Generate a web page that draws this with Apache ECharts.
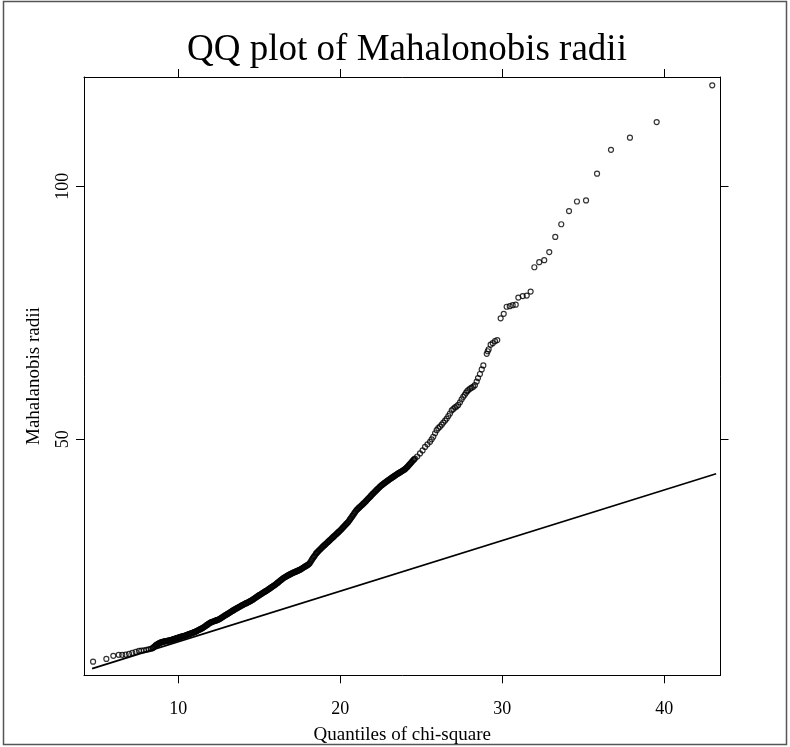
<!DOCTYPE html>
<html>
<head>
<meta charset="utf-8">
<script src="https://cdn.jsdelivr.net/npm/echarts@6/dist/echarts.min.js"></script>
<style>html,body{margin:0;padding:0;background:#fff}#c{width:790px;height:747px}</style>
</head>
<body>
<div id="c"></div>
<script>
// Quantiles of chi-square (x) and sorted Mahalanobis radii (y)
const chiQuantiles = [
4.74,5.56,5.99,6.32,6.54,6.75,6.96,7.16,7.37,7.57,7.72,7.88,8.03,8.17,8.30,
8.40,8.44,8.49,8.53,8.58,8.62,8.67,8.71,8.76,8.80,8.85,8.89,8.94,8.98,
9.03,9.08,9.12,9.17,9.21,9.26,9.30,9.35,9.40,9.44,9.49,
9.54,9.58,9.63,9.68,9.72,9.77,9.82,9.86,9.91,9.96,
10.00,10.05,10.10,10.14,10.19,10.24,10.28,10.33,10.38,10.42,10.47,
10.52,10.56,10.61,10.66,10.70,10.75,10.80,10.84,10.89,10.94,10.98,
11.03,11.08,11.12,11.17,11.22,11.26,11.31,11.36,11.40,11.45,11.50,
11.54,11.59,11.64,11.68,11.73,11.78,11.82,11.87,11.92,11.96,
12.01,12.06,12.10,12.15,12.20,12.24,12.29,12.34,12.38,12.43,12.48,
12.52,12.57,12.62,12.66,12.71,12.76,12.80,12.85,12.90,12.94,12.99,
13.04,13.08,13.13,13.18,13.22,13.27,13.32,13.36,13.41,13.46,
13.50,13.55,13.60,13.64,13.69,13.74,13.78,13.83,13.88,13.92,13.97,
14.02,14.06,14.11,14.16,14.20,14.25,14.30,14.34,14.39,14.44,14.48,
14.53,14.58,14.62,14.67,14.72,14.76,14.81,14.86,14.90,14.95,15.00,
15.04,15.09,15.14,15.18,15.23,15.28,15.32,15.37,15.42,15.46,
15.51,15.56,15.60,15.65,15.70,15.74,15.79,15.84,15.88,15.93,15.98,
16.02,16.07,16.12,16.16,16.21,16.26,16.30,16.35,16.40,16.44,16.49,
16.54,16.58,16.63,16.68,16.72,16.77,16.82,16.86,16.91,16.96,
17.00,17.05,17.10,17.14,17.19,17.24,17.28,17.33,17.38,17.42,17.47,
17.52,17.56,17.61,17.66,17.70,17.75,17.80,17.84,17.89,17.94,17.98,
18.03,18.08,18.12,18.17,18.22,18.26,18.31,18.36,18.40,18.45,18.50,
18.54,18.59,18.64,18.68,18.73,18.78,18.82,18.87,18.92,18.96,
19.01,19.06,19.10,19.15,19.20,19.24,19.29,19.34,19.38,19.43,19.48,
19.52,19.57,19.62,19.66,19.71,19.76,19.80,19.85,19.90,19.94,19.99,
20.04,20.08,20.13,20.18,20.22,20.27,20.32,20.36,20.41,20.46,
20.50,20.55,20.60,20.64,20.69,20.74,20.78,20.83,20.88,20.92,20.97,
21.02,21.06,21.11,21.16,21.20,21.25,21.30,21.34,21.39,21.44,21.48,
21.53,21.58,21.62,21.67,21.72,21.76,21.81,21.86,21.90,21.95,
22.00,22.04,22.09,22.14,22.18,22.23,22.28,22.32,22.37,22.42,22.46,
22.51,22.56,22.60,22.65,22.70,22.74,22.79,22.84,22.88,22.93,22.98,
23.02,23.07,23.12,23.16,23.21,23.26,23.30,23.35,23.40,23.44,
23.49,23.54,23.58,23.63,23.68,23.72,23.77,23.82,23.86,23.91,23.96,
24.00,24.05,24.10,24.14,24.19,24.24,24.28,24.33,24.38,24.42,24.47,24.52,24.56,24.61,
24.75,24.92,25.08,25.23,25.38,25.54,25.64,25.74,25.85,25.95,26.05,26.15,26.26,26.36,26.47,26.57,26.67,26.77,26.88,26.98,
27.08,27.18,27.28,27.39,27.49,27.59,27.68,27.76,27.83,27.90,28.01,28.11,28.21,28.31,28.42,28.50,28.62,28.73,28.83,
29.04,29.10,29.16,29.28,29.41,29.55,29.69,29.90,30.09,30.27,30.46,30.64,30.83,30.99,31.26,31.51,31.75,31.98,
32.28,32.59,32.90,33.27,33.64,34.12,34.61,35.17,35.85,36.71,37.88,39.53,42.96
];
const radii = [
6.05,6.6,7.2,7.4,7.4,7.45,7.6,7.8,8.0,8.2,8.25,8.3,8.4,8.5,8.6,
8.70,8.80,8.92,9.05,9.20,9.32,9.42,9.50,9.58,9.66,9.72,9.80,9.86,9.93,
9.97,10.01,10.04,10.07,10.10,10.13,10.16,10.19,10.22,10.25,10.29,
10.33,10.37,10.42,10.46,10.51,10.56,10.60,10.65,10.70,10.75,
10.80,10.85,10.90,10.94,10.99,11.04,11.08,11.13,11.18,11.22,11.27,
11.32,11.37,11.43,11.49,11.54,11.60,11.66,11.71,11.77,11.83,11.88,
11.94,12.01,12.08,12.16,12.24,12.31,12.39,12.47,12.54,12.62,12.70,
12.79,12.89,13.00,13.10,13.21,13.32,13.42,13.53,13.64,13.73,
13.81,13.87,13.92,13.98,14.04,14.09,14.15,14.21,14.26,14.32,14.37,
14.43,14.53,14.63,14.72,14.82,14.92,15.01,15.11,15.21,15.29,15.38,
15.48,15.57,15.67,15.77,15.85,15.95,16.05,16.13,16.23,16.32,
16.40,16.49,16.58,16.66,16.75,16.84,16.91,17.00,17.09,17.16,17.25,
17.33,17.40,17.48,17.56,17.62,17.70,17.78,17.85,17.93,18.01,18.07,
18.17,18.28,18.36,18.47,18.58,18.67,18.78,18.89,18.98,19.09,19.20,
19.28,19.38,19.48,19.56,19.66,19.76,19.84,19.94,20.04,20.12,
20.22,20.33,20.42,20.53,20.64,20.73,20.84,20.95,21.04,21.15,21.26,
21.35,21.48,21.61,21.72,21.85,21.98,22.08,22.21,22.34,22.44,22.57,
22.67,22.74,22.83,22.92,23.00,23.09,23.18,23.25,23.34,23.43,
23.50,23.57,23.64,23.70,23.77,23.84,23.89,23.96,24.03,24.09,24.16,
24.24,24.32,24.42,24.52,24.60,24.70,24.80,24.88,24.98,25.08,25.16,
25.26,25.40,25.55,25.80,26.05,26.28,26.50,26.72,26.90,27.12,27.40,
27.54,27.70,27.86,28.00,28.16,28.32,28.45,28.61,28.77,28.90,
29.03,29.18,29.30,29.45,29.60,29.72,29.87,30.02,30.14,30.29,30.44,
30.56,30.71,30.86,30.98,31.13,31.28,31.40,31.55,31.70,31.82,31.97,
32.10,32.27,32.44,32.61,32.75,32.92,33.09,33.22,33.39,33.56,
33.70,33.93,34.16,34.34,34.57,34.80,34.98,35.21,35.45,35.63,35.86,
36.06,36.18,36.33,36.48,36.60,36.75,36.90,37.02,37.17,37.32,37.44,
37.60,37.77,37.91,38.08,38.25,38.38,38.55,38.72,38.86,39.03,
39.20,39.33,39.49,39.65,39.78,39.94,40.10,40.22,40.38,40.54,40.67,
40.82,40.94,41.04,41.16,41.28,41.38,41.50,41.62,41.71,41.83,41.95,
42.04,42.15,42.26,42.35,42.46,42.57,42.66,42.77,42.88,42.97,
43.08,43.18,43.26,43.36,43.46,43.54,43.64,43.74,43.82,43.92,44.02,
44.10,44.26,44.42,44.55,44.72,44.90,45.05,45.22,45.40,45.55,45.75,45.92,46.05,46.20,
46.6,47.2,47.8,48.5,49.0,49.5,50.0,50.5,51.2,51.8,52.2,52.5,52.9,53.3,53.7,54.1,54.6,55.1,55.7,56.0,
56.3,56.5,56.8,57.3,57.9,58.4,58.8,59.2,59.5,59.7,60.0,60.2,60.4,60.7,61.4,62.1,62.9,63.8,64.6,
66.9,67.4,67.8,68.7,69.0,69.4,69.6,73.9,74.8,76.2,76.3,76.5,76.6,78.0,78.3,78.4,79.2,84.0,
85.0,85.4,87.0,90.0,92.5,95.1,97.0,97.2,102.5,107.2,109.6,112.7,119.96
];
// reference line y = x, from its first to its last point
const refLine = [4.68, 43.2];
const xTicks = [10, 20, 30, 40];
const yTicks = [50, 100];

const n = Math.min(chiQuantiles.length, radii.length);
const points = [];
for (let i = 0; i < n; i++) points.push([chiQuantiles[i], radii[i]]);
const lineData = refLine.map(v => [v, v]);

const chart = echarts.init(document.getElementById('c'), null, {renderer: 'canvas'});
const serif = '"Liberation Serif", "DejaVu Serif", serif';
const axisLineStyle = {show: true, lineStyle: {color: '#000', width: 1}};
const tickStyle = {show: true, inside: false, length: 8, lineStyle: {color: '#000', width: 1}};
chart.setOption({
  animation: false,
  backgroundColor: '#fff',
  title: {
    text: 'QQ plot of Mahalonobis radii',
    left: 402, top: 27, textAlign: 'center',
    textStyle: {fontFamily: serif, fontSize: 37, fontWeight: 'normal', color: '#000'}
  },
  graphic: [{
    type: 'rect', shape: {x: 3.5, y: 1.5, width: 783, height: 743},
    style: {fill: 'none', stroke: '#555', lineWidth: 1.5}, silent: true
  }],
  grid: {left: 84, right: 69.5, top: 77, bottom: 71.7, containLabel: false, outerBoundsMode: 'none'},
  xAxis: [{
    type: 'value', position: 'bottom', min: 4.18, max: 43.47,
    axisLine: axisLineStyle, axisTick: Object.assign({customValues: xTicks}, tickStyle),
    axisLabel: {customValues: xTicks, margin: 25, fontFamily: serif, fontSize: 18, color: '#000'},
    splitLine: {show: false},
    name: 'Quantiles of chi-square', nameLocation: 'middle', nameGap: 50,
    nameTextStyle: {fontFamily: serif, fontSize: 19, color: '#000'}
  }, {
    type: 'value', position: 'top', min: 4.18, max: 43.47,
    axisLine: axisLineStyle, axisTick: Object.assign({customValues: xTicks}, tickStyle),
    axisLabel: {show: false}, splitLine: {show: false}
  }],
  yAxis: [{
    type: 'value', position: 'left', min: 3.36, max: 121.6,
    axisLine: axisLineStyle, axisTick: Object.assign({customValues: yTicks}, tickStyle),
    axisLabel: {customValues: yTicks, rotate: 90, margin: 12, fontFamily: serif, fontSize: 18, color: '#000'},
    splitLine: {show: false},
    name: 'Mahalanobis radii', nameLocation: 'middle', nameGap: 40, nameRotate: 90,
    nameTextStyle: {fontFamily: serif, fontSize: 19, color: '#000'}
  }, {
    type: 'value', position: 'right', min: 3.36, max: 121.6,
    axisLine: axisLineStyle, axisTick: Object.assign({customValues: yTicks}, tickStyle),
    axisLabel: {show: false}, splitLine: {show: false}
  }],
  series: [{
    type: 'scatter', xAxisIndex: 0, yAxisIndex: 0, data: points,
    symbol: 'circle', symbolSize: 5,
    itemStyle: {color: 'rgba(0,0,0,0)', borderColor: '#000', borderWidth: 1.2},
    silent: true
  }, {
    type: 'line', xAxisIndex: 0, yAxisIndex: 0, data: lineData,
    showSymbol: false, lineStyle: {color: '#000', width: 1.6}, silent: true
  }]
});
</script>
</body>
</html>
